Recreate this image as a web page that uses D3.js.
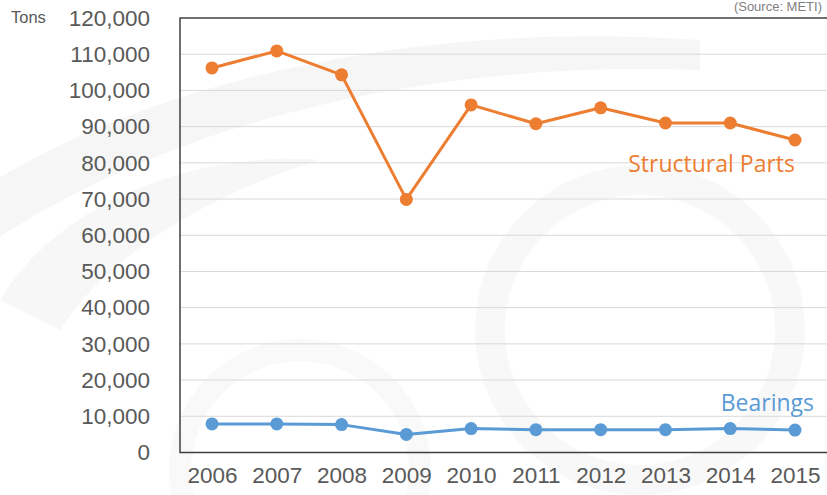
<!DOCTYPE html>
<html>
<head>
<meta charset="utf-8">
<script src="https://cdn.jsdelivr.net/npm/d3@7"></script>
<style>
  body { margin: 0; background: #fff; }
  svg { display: block; }
</style>
</head>
<body>
<svg id="canvas" width="827" height="495"></svg>
<script>
let years = ['2006', '2007', '2008', '2009', '2010', '2011', '2012', '2013', '2014', '2015'];
let structuralParts = [106200, 110900, 104300, 69900, 96000, 90800, 95200, 91000, 91000, 86300];
let bearings = [7900, 7900, 7700, 5000, 6600, 6300, 6300, 6300, 6600, 6200];
let yTicks = [0, 10000, 20000, 30000, 40000, 50000, 60000, 70000, 80000, 90000, 100000, 110000, 120000];

let plotLeft = 180, plotTop = 18, plotBottom = 452.5, plotRight = 830;

let canvas = d3.select('#canvas');

// faint watermark swooshes in the background
let bg = canvas.append('g');
bg.append('path')
    .attr('d', 'M -20 190 C 150 80, 420 20, 700 40 L 700 70 C 430 60, 170 120, -20 250 Z')
    .attr('fill', '#f6f6f6');
bg.append('path')
    .attr('d', 'M 0 300 C 60 200, 200 150, 320 160 C 220 190, 110 250, 60 330 Z')
    .attr('fill', '#f7f7f7');
bg.append('circle')
    .attr('cx', 640).attr('cy', 330).attr('r', 150)
    .attr('fill', 'none').attr('stroke', '#f8f8f8').attr('stroke-width', 30);
bg.append('circle')
    .attr('cx', 300).attr('cy', 470).attr('r', 120)
    .attr('fill', 'none').attr('stroke', '#f9f9f9').attr('stroke-width', 22);

let xScale = d3.scalePoint()
    .domain(years)
    .range([212, 795]);

let yScale = d3.scaleLinear()
    .domain([0, 120000])
    .range([plotBottom, plotTop]);

// gridlines
canvas.append('g')
    .selectAll('line')
    .data(yTicks.filter(d => d > 0 && d < 120000))
    .enter()
    .append('line')
    .attr('x1', plotLeft)
    .attr('x2', plotRight)
    .attr('y1', d => yScale(d))
    .attr('y2', d => yScale(d))
    .attr('stroke', '#d9d9d9')
    .attr('stroke-width', 1);

// frame: top, left, bottom
canvas.append('path')
    .attr('d', `M ${plotRight} ${plotTop} H ${plotLeft} V ${plotBottom} H ${plotRight}`)
    .attr('fill', 'none')
    .attr('stroke', '#404040')
    .attr('stroke-width', 1.5);

// y axis labels
let yAxis = d3.axisLeft(yScale)
    .tickValues(yTicks)
    .tickFormat(d3.format(','))
    .tickSize(0)
    .tickPadding(30);

canvas.append('g')
    .attr('transform', `translate(${plotLeft},0)`)
    .call(yAxis)
    .call(g => g.select('.domain').remove())
    .selectAll('text')
    .attr('fill', '#595959')
    .style('font-family', 'Liberation Sans, Arial, sans-serif')
    .style('font-size', '22.5px');

// x axis labels
let xAxis = d3.axisBottom(xScale)
    .tickSize(0)
    .tickPadding(15);

canvas.append('g')
    .attr('transform', `translate(0,${plotBottom})`)
    .call(xAxis)
    .call(g => g.select('.domain').remove())
    .selectAll('text')
    .attr('fill', '#595959')
    .style('font-family', 'Liberation Sans, Arial, sans-serif')
    .style('font-size', '22.5px');

// unit label
canvas.append('text')
    .text('Tons')
    .attr('x', 11)
    .attr('y', 23)
    .attr('fill', '#595959')
    .style('font-family', 'Liberation Sans, Arial, sans-serif')
    .style('font-size', '16.5px');

// source note at the top right
canvas.append('text')
    .text('(Source: METI)')
    .attr('x', 822)
    .attr('y', 11)
    .attr('text-anchor', 'end')
    .attr('fill', '#7f7f7f')
    .style('font-family', 'Liberation Sans, Arial, sans-serif')
    .style('font-size', '13px');

let drawSeries = (values, color) => {
    let line = d3.line()
        .x((d, i) => xScale(years[i]))
        .y(d => yScale(d));

    canvas.append('path')
        .datum(values)
        .attr('d', line)
        .attr('fill', 'none')
        .attr('stroke', color)
        .attr('stroke-width', 3)
        .attr('stroke-linejoin', 'round');

    canvas.append('g')
        .selectAll('circle')
        .data(values)
        .enter()
        .append('circle')
        .attr('cx', (d, i) => xScale(years[i]))
        .attr('cy', d => yScale(d))
        .attr('r', 6.5)
        .attr('fill', color);
};

drawSeries(structuralParts, '#ed7d31');
drawSeries(bearings, '#5b9bd5');

// series labels
canvas.append('text')
    .text('Structural Parts')
    .attr('x', 795)
    .attr('y', 172)
    .attr('text-anchor', 'end')
    .attr('fill', '#ed7d31')
    .style('font-family', 'Open Sans, sans-serif')
    .style('font-size', '23px');

canvas.append('text')
    .text('Bearings')
    .attr('x', 814)
    .attr('y', 411)
    .attr('text-anchor', 'end')
    .attr('fill', '#5b9bd5')
    .style('font-family', 'Open Sans, sans-serif')
    .style('font-size', '23px');
</script>
</body>
</html>
